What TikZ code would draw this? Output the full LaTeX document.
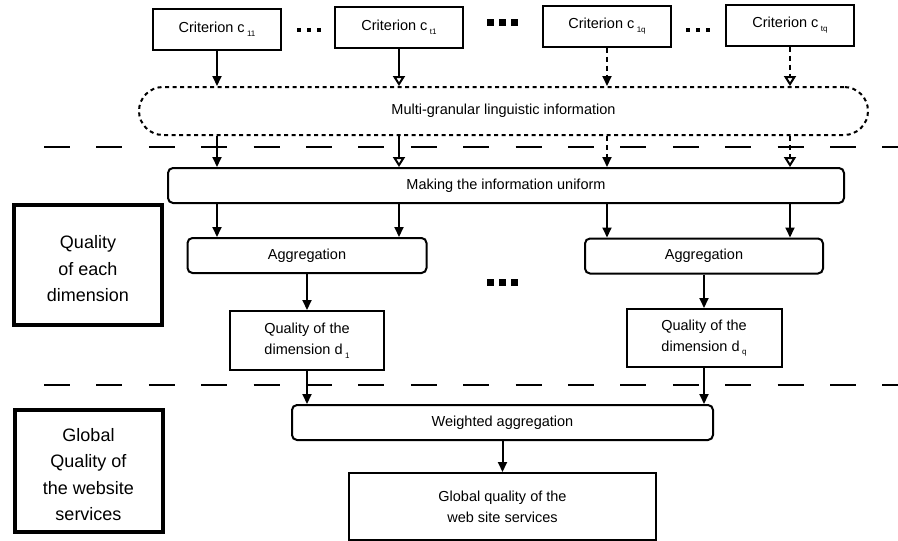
\documentclass[tikz,border=0pt]{standalone}
\usepackage{fontspec}
\setmainfont{Liberation Sans}
\usepackage{tikz}
\usetikzlibrary{arrows.meta, positioning, calc}

\newcommand{\lowidx}[1]{\,\raisebox{-0.5ex}{\fontsize{8}{8}\selectfont #1}}

\begin{document}
\begin{tikzpicture}[
  x=1pt, y=-1pt,
  font=\fontsize{14.5}{21}\selectfont,
  crit/.style={rectangle, draw=black, line width=2pt, minimum width=128pt, minimum height=41pt, text centered},
  info/.style={rectangle, rounded corners=24pt, draw=black, line width=2pt, dash pattern=on 4pt off 3.5pt, minimum width=729pt, minimum height=48pt},
  process/.style={rectangle, rounded corners=5pt, draw=black, line width=2pt, text centered},
  quality/.style={rectangle, draw=black, line width=2pt, align=center},
  level/.style={rectangle, draw=black, line width=4pt, align=center, font=\fontsize{18}{26.5}\selectfont, minimum width=148pt},
  arrow/.style={line width=2pt, -{Triangle[length=10pt, width=9pt]}},
  openarrow/.style={line width=2pt, -{Triangle[open, length=10pt, width=12pt, line width=2pt]}},
  broken/.style={dash pattern=on 5pt off 4pt},
  sepline/.style={line width=2.2pt, dash pattern=on 26pt off 26.4pt}
]
\useasboundingbox (0,0) rectangle (898,541);

% criteria
\node (c11) [crit] at (217,29) {Criterion c\lowidx{11}};
\node (ct1) [crit] at (399,27) {Criterion c\lowidx{t1}};
\node (c1q) [crit] at (607,26) {Criterion c\lowidx{1q}};
\node (ctq) [crit] at (790,25) {Criterion c\lowidx{tq}};
\foreach \x in {297,307,317} \fill (\x,28) rectangle ++(3.5,3.5);
\foreach \x in {487,499,511} \fill (\x,19) rectangle ++(7,7);
\foreach \x in {686,696,706} \fill (\x,28) rectangle ++(3.5,3.5);

% information
\node (info) [info] at (503.5,111) {Multi-granular linguistic information};
\node (uni) [process, minimum width=676pt, minimum height=35pt] at (506,185.5) {Making the information uniform};

% separators
\coordinate (sep1w) at (44,147);
\coordinate (sep1e) at (898,147);
\coordinate (sep2w) at (44,385);
\coordinate (sep2e) at (898,385);
\draw [sepline] (sep1w) -- (sep1e);
\draw [sepline] (sep2w) -- (sep2e);

% dimensions
\node (agg1) [process, minimum width=239pt, minimum height=35pt] at (307,255.5) {Aggregation};
\node (agg2) [process, minimum width=238pt, minimum height=35pt] at (704,256) {Aggregation};
\foreach \x in {487,499,511} \fill (\x,279) rectangle ++(7,7);
\node (qd1) [quality, minimum width=154pt, minimum height=59pt] at (307,340.5) {Quality of the\\dimension d\lowidx{1}};
\node (qdq) [quality, minimum width=155pt, minimum height=58pt] at (704,338) {Quality of the\\dimension d\lowidx{q}};

% global
\node (wagg) [process, minimum width=421pt, minimum height=35pt] at (502.5,422.5) {Weighted aggregation};
\node (glob) [quality, minimum width=307pt, minimum height=67pt] at (502.5,506.5) {Global quality of the\\web site services};

% levels
\node (lev1) [level, minimum height=120pt, text height=74pt] at (88,265) {Quality\\of each\\dimension};
\node (lev2) [level, minimum height=122pt, text height=100pt] at (88.5,471) {Global\\Quality of\\the website\\services};

% arrows
\draw [arrow] (c11) -- (c11 |- info.north);
\draw [openarrow] (ct1) -- (ct1 |- info.north);
\draw [arrow, broken] (c1q) -- (c1q |- info.north);
\draw [openarrow, broken] (ctq) -- (ctq |- info.north);
\draw [arrow] (c11 |- info.south) -- (c11 |- uni.north);
\draw [openarrow] (ct1 |- info.south) -- (ct1 |- uni.north);
\draw [arrow, broken] (c1q |- info.south) -- (c1q |- uni.north);
\draw [openarrow, broken] (ctq |- info.south) -- (ctq |- uni.north);
\draw [arrow] (c11 |- uni.south) -- (c11 |- agg1.north);
\draw [arrow] (ct1 |- uni.south) -- (ct1 |- agg1.north);
\draw [arrow] (c1q |- uni.south) -- (c1q |- agg2.north);
\draw [arrow] (ctq |- uni.south) -- (ctq |- agg2.north);
\draw [arrow] (agg1) -- (qd1);
\draw [arrow] (agg2) -- (qdq);
\draw [arrow] (qd1) -- (qd1 |- wagg.north);
\draw [arrow] (qdq) -- (qdq |- wagg.north);
\draw [arrow] (wagg) -- (glob);
\end{tikzpicture}
\end{document}
